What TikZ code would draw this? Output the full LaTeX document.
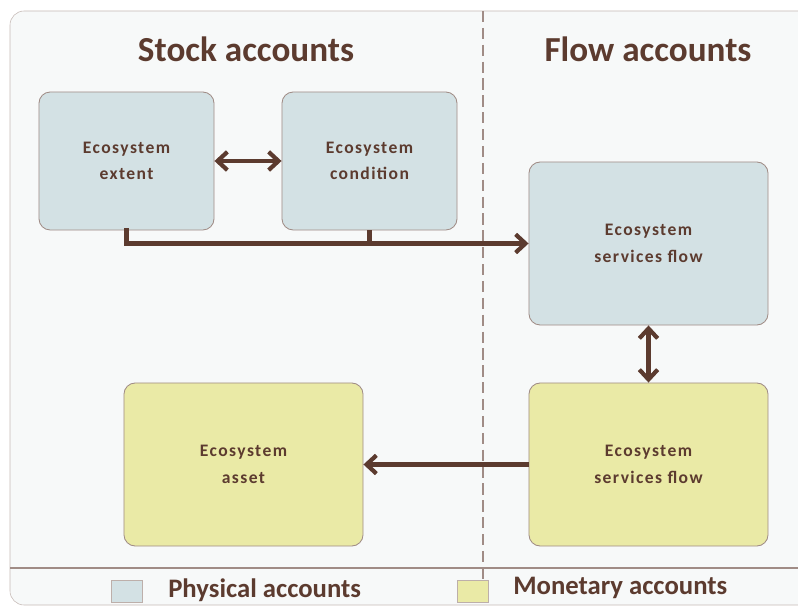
\documentclass[tikz,border=0pt]{standalone}
\usepackage{fontspec}
\setmainfont{Carlito}
\newfontfamily\boxfont[LetterSpace=8]{Carlito}
\usepackage{tikz}
\usetikzlibrary{positioning, arrows, arrows.meta}

\definecolor{ink}{HTML}{5C3B2F}
\definecolor{physical}{HTML}{D3E1E4}
\definecolor{monetary}{HTML}{EAEAA6}
\definecolor{frameline}{HTML}{A08C86}
\definecolor{paper}{HTML}{F7F9F9}

\begin{document}
\begin{tikzpicture}[x=0.025cm, y=-0.025cm,
  acct/.style={draw=frameline, line width=0.6pt, rounded corners=8pt, align=center,
    text=ink, font=\boxfont\bfseries\fontsize{12.5}{19}\selectfont},
  small/.style={acct, minimum width=4.375cm, minimum height=3.45cm},
  large/.style={acct, minimum width=5.975cm, minimum height=4.075cm},
  heading/.style={text=ink, font=\bfseries\fontsize{25}{30}\selectfont},
  key/.style={draw=frameline!70, minimum width=0.775cm, minimum height=0.55cm},
  keytext/.style={anchor=west, inner sep=0pt, text=ink, font=\bfseries\fontsize{19}{22}\selectfont},
  link/.style={draw=ink, line width=3pt, -{Straight Barb[length=7pt, width=13pt]}},
  twoway/.style={link, {Straight Barb[length=7pt, width=13pt]}-{Straight Barb[length=7pt, width=13pt]}}
]
\useasboundingbox (0,0) rectangle (798,610);
\draw[frameline!60, fill=paper, rounded corners=10pt] (10,11) rectangle (830,605);
\draw[frameline, line width=1.4pt] (10,568) -- (798,568);
\draw[frameline, line width=1.4pt, dash pattern=on 8pt off 4pt] (483,11) -- (483,582);

% headings
\node[heading] (stock) at (246,49) {Stock accounts};
\node[heading] (flow)  at (648,49) {Flow accounts};

% accounts
\node[small, fill=physical] (extent)    at (126.5,161) {Ecosystem\\extent};
\node[small, fill=physical] (condition) at (369.5,161) {Ecosystem\\condition};
\node[large, fill=physical] (physflow)  at (648.5,243.5) {Ecosystem\\services flow};
\node[large, fill=monetary] (monflow)   at (648.5,464.5) {Ecosystem\\services flow};
\node[large, fill=monetary] (asset)     at (243.5,464.5) {Ecosystem\\asset};

\draw[twoway] (extent) -- (condition);
\draw[link, line cap=rect] (extent.south) |- (physflow.west);
\draw[draw=ink, line width=3pt] (condition.south) -- (condition.south |- physflow.west);
\draw[twoway] (physflow) -- (monflow);
\draw[link] (monflow) -- (asset);

% legend
\node[key, fill=physical] (physkey) at (126.5,591) {};
\node[keytext] (physlabel) at (168,590) {Physical accounts};
\node[key, fill=monetary] (monkey) at (472.5,591.5) {};
\node[keytext] (monlabel) at (513,587.5) {Monetary accounts};
\end{tikzpicture}
\end{document}
